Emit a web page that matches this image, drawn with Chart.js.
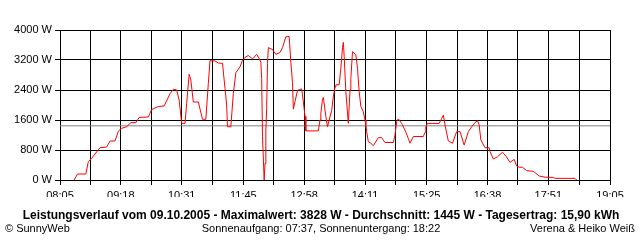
<!DOCTYPE html>
<html>
<head>
<meta charset="utf-8">
<script src="https://cdn.jsdelivr.net/npm/chart.js@4/dist/chart.umd.min.js"></script>
<style>
  html, body { margin: 0; padding: 0; background: #ffffff; }
  #wrap { width: 640px; height: 240px; }
</style>
</head>
<body>
<div id="wrap"><canvas id="grafica" width="640" height="240"></canvas></div>
<script>
// Leistungsverlauf 09.10.2005
const horas = [
  '08:22','08:26','08:36','08:39','08:43','08:53','09:01','09:05','09:11','09:15',
  '09:19','09:25','09:30','09:36','09:40','09:51','09:55','10:03','10:10','10:17',
  '10:21','10:25','10:28','10:31','10:35','10:37','10:40','10:42','10:45','10:51',
  '10:56','11:00','11:03','11:05','11:11','11:15','11:20','11:23','11:25','11:26',
  '11:30','11:33','11:36','11:41','11:44','11:47','11:51','11:56','12:01','12:04',
  '12:06','12:07','12:08','12:10','12:11','12:12','12:13','12:14','12:15','12:20',
  '12:24','12:29','12:32','12:36','12:40','12:42','12:44','12:45','12:47','12:50',
  '12:55','12:56','12:59','13:00','13:15','13:17','13:18','13:20','13:21','13:24',
  '13:26','13:28','13:31','13:33','13:35','13:36','13:40','13:42','13:44','13:45',
  '13:46','13:48','13:51','13:53','13:54','13:56','14:00','14:02','14:04','14:06',
  '14:09','14:11','14:12','14:13','14:15','14:18','14:21','14:27','14:31','14:35',
  '14:45','14:47','14:49','14:51','14:55','14:59','15:03','15:05','15:09','15:21',
  '15:23','15:24','15:26','15:40','15:43','15:45','15:47','15:51','15:56','16:01',
  '16:05','16:10','16:15','16:19','16:23','16:26','16:28','16:30','16:35','16:40',
  '16:41','16:45','16:50','16:56','17:00','17:05','17:10','17:13','17:16','17:20',
  '17:25','17:33','17:36','17:40','17:47','17:57','17:59','18:23','18:25'
];
const potencia = [
  0,160,160,490,580,860,880,1040,1040,1300,
  1380,1420,1530,1530,1670,1680,1880,1960,1975,2300,
  2420,2400,2130,1510,1510,2045,2820,2670,2080,2080,
  1620,1620,2580,3180,3175,3120,3110,2440,2000,1420,
  1420,2310,2860,3020,3190,3270,3320,3230,3350,3240,
  3140,2710,1160,0,440,1310,1910,3110,3530,3480,
  3350,3400,3530,3820,3828,3140,2600,1890,2090,2390,
  2430,2270,1700,1310,1310,1600,1780,2150,2200,1700,
  1420,1600,1850,2220,2480,2540,2540,2980,3530,3670,
  3300,2360,1510,2400,2710,3420,3340,2980,2360,1960,
  1820,1600,1480,1290,1020,980,915,1130,1130,1000,
  1000,1200,1560,1630,1510,1330,1110,980,1160,1160,
  1270,1420,1510,1510,1640,1730,1470,1040,980,1290,
  1290,930,1290,1420,1530,1580,1470,1070,860,860,
  760,560,620,740,640,470,550,370,340,340,
  250,230,180,107,75,70,44,44,0
];
const etiquetasX = ['08:05','09:18','10:31','11:45','12:58','14:11','15:25','16:38','17:51','19:05'];
const etiquetasY = [0, 800, 1600, 2400, 3200, 4000];
const durchschnitt = 1445;

const titulo = 'Leistungsverlauf vom 09.10.2005 - Maximalwert: 3828 W - Durchschnitt: 1445 W - Tagesertrag: 15,90 kWh';
const pieIzq = '\u00A9 SunnyWeb';
const pieCentro = 'Sonnenaufgang: 07:37, Sonnenuntergang: 18:22';
const pieDer = 'Verena & Heiko Wei\u00DF';

const FUENTE = '"Liberation Sans", Arial, sans-serif';

function aMinutos(h) {
    const [hh, mm] = h.split(':').map(Number);
    return hh * 60 + mm;
}
function aHora(m) {
    m = Math.floor(m + 0.01);
    const hh = Math.floor(m / 60), mm = m % 60;
    return String(hh).padStart(2, '0') + ':' + String(mm).padStart(2, '0');
}

// ticks principales = etiquetas, mas una linea intermedia entre cada par
const minutosEtiquetas = etiquetasX.map(aMinutos);
const ticksX = [];
minutosEtiquetas.forEach((m, i) => {
    ticksX.push({ value: m, etiqueta: etiquetasX[i] });
    if (i < minutosEtiquetas.length - 1) {
        ticksX.push({ value: (m + minutosEtiquetas[i + 1]) / 2, etiqueta: '' });
    }
});

const xMin = minutosEtiquetas[0];
const xMax = minutosEtiquetas[minutosEtiquetas.length - 1];

const puntos = horas.map((h, i) => ({ x: aMinutos(h), y: potencia[i] }));

const textosPie = {
    id: 'textosPie',
    afterDraw(chart) {
        const c = chart.ctx;
        c.save();
        c.fillStyle = '#000000';
        c.textBaseline = 'middle';
        c.font = 'bold 12px ' + FUENTE;
        c.textAlign = 'center';
        c.fillText(titulo, 321, 216);
        c.font = '11px ' + FUENTE;
        c.textAlign = 'left';
        c.fillText(pieIzq, 5, 229);
        c.textAlign = 'center';
        c.fillText(pieCentro, 321, 229);
        c.textAlign = 'right';
        c.fillText(pieDer, 635, 229);
        c.restore();
    }
};

const ctx = document.getElementById('grafica');

new Chart(ctx, {
    type: 'line',
    data: {
        datasets: [
            {
                label: 'Leistung',
                data: puntos,
                borderColor: '#ff0000',
                borderWidth: 1,
                pointRadius: 0,
                tension: 0,
                fill: false,
                order: 0
            },
            {
                label: 'Durchschnitt',
                data: [{ x: xMin, y: durchschnitt }, { x: xMax, y: durchschnitt }],
                borderColor: '#808080',
                borderWidth: 1,
                pointRadius: 0,
                fill: false,
                order: 1
            }
        ]
    },
    options: {
        responsive: false,
        animation: false,
        events: [],
        layout: { padding: { left: 0, top: 30, right: 30, bottom: 43 } },
        scales: {
            x: {
                type: 'linear',
                min: xMin,
                max: xMax,
                afterBuildTicks: (eje) => {
                    eje.ticks = ticksX.map(t => ({ value: t.value }));
                },
                afterFit: (eje) => { eje.height = 17; },
                ticks: {
                    autoSkip: false,
                    maxRotation: 0,
                    padding: 4,
                    color: '#000000',
                    font: { family: FUENTE, size: 11 },
                    callback: (v, i) => ticksX[i] ? ticksX[i].etiqueta : aHora(v)
                },
                grid: { color: '#000000', lineWidth: 1, tickLength: 5, tickColor: '#000000' },
                border: { display: true, color: '#000000' }
            },
            y: {
                min: 0,
                max: etiquetasY[etiquetasY.length - 1],
                afterBuildTicks: (eje) => {
                    eje.ticks = etiquetasY.map(v => ({ value: v }));
                },
                afterFit: (eje) => { eje.width = 60; },
                ticks: {
                    padding: 3,
                    color: '#000000',
                    font: { family: FUENTE, size: 11 },
                    callback: (v) => v + ' W'
                },
                grid: { color: '#000000', lineWidth: 1, tickLength: 5, tickColor: '#000000' },
                border: { display: true, color: '#000000' }
            }
        },
        plugins: {
            legend: { display: false },
            tooltip: { enabled: false },
            title: { display: false }
        }
    },
    plugins: [textosPie]
});
</script>
</body>
</html>
